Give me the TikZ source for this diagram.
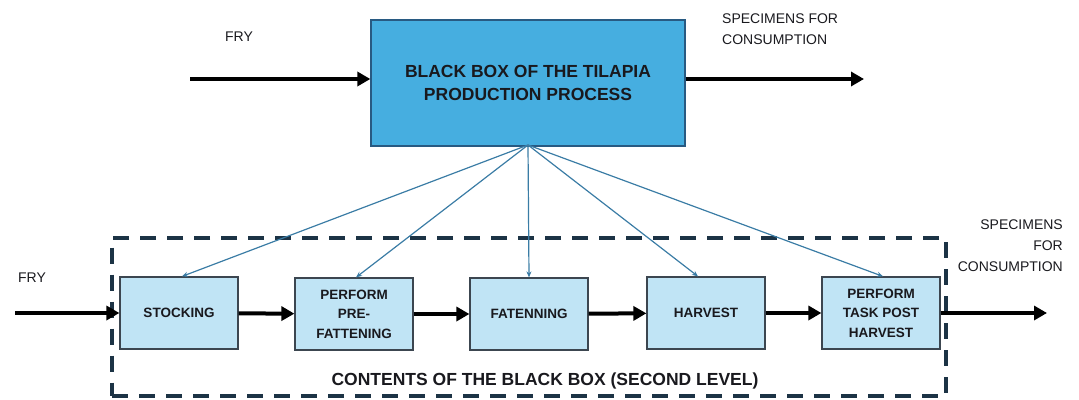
\documentclass[tikz,border=0pt]{standalone}
\usepackage{fontspec}
\setmainfont{Liberation Sans}
\usetikzlibrary{arrows.meta}
\definecolor{topfill}{RGB}{70,174,224}
\definecolor{topdraw}{RGB}{40,90,130}
\definecolor{stepfill}{RGB}{192,228,245}
\definecolor{stepdraw}{RGB}{60,70,80}
\definecolor{linkblue}{RGB}{58,124,165}
\definecolor{dashcol}{RGB}{28,51,69}
\definecolor{txt}{RGB}{25,25,30}
\tikzset{
  topbox/.style={draw=topdraw, line width=1.3pt, fill=topfill, minimum width=314pt, minimum height=126pt,
    inner sep=0pt, align=center, font=\fontsize{17.5}{23}\selectfont\bfseries, text=txt},
  stepbox/.style={draw=stepdraw, line width=1.2pt, fill=stepfill, minimum width=118pt, minimum height=72pt,
    inner sep=0pt, align=center, font=\fontsize{13.5}{19.5}\selectfont\bfseries, text=txt},
  outerbox/.style={draw=dashcol, line width=4pt, dash pattern=on 16pt off 11pt, minimum width=834pt, minimum height=158pt, inner sep=0pt},
  flow/.style={line width=4pt, -{Triangle[length=13pt,width=14pt]}},
  link/.style={draw=linkblue, line width=1.2pt, -{Stealth[length=6pt,width=5pt]}},
  lbl/.style={font=\fontsize{14}{21}\selectfont, text=txt, inner sep=0pt},
}
\begin{document}
\begin{tikzpicture}[x=1pt,y=-1pt]
\useasboundingbox (0,0) rectangle (1079,399);
% top level: the whole process as one box
\node[topbox] (top) at (528,83) {BLACK BOX OF THE TILAPIA\\PRODUCTION PROCESS};
\coordinate (topin) at (190,79);
\coordinate (topout) at (864,79);
\draw[flow] (topin) -- (top.west |- topin);
\draw[flow] (top.east |- topout) -- (topout);
\node[lbl] (fryA) at (239,37) {FRY};
\node[lbl, anchor=west, align=left] (specA) at (722,29) {SPECIMENS FOR\\CONSUMPTION};

% second level: contents of the box
\node[outerbox] (inner) at (529,316.5) {};
\node[stepbox] (s1) at (179,313) {STOCKING};
\node[stepbox] (s2) at (354,314) {PERFORM\\PRE-\\FATTENING};
\node[stepbox] (s3) at (529,314) {FATENNING};
\node[stepbox] (s4) at (706,313) {HARVEST};
\node[stepbox] (s5) at (881,313) {PERFORM\\TASK POST\\HARVEST};
\node[font=\fontsize{17.5}{20}\selectfont\bfseries, text=txt, inner sep=0pt] (cap) at (545,381) {CONTENTS OF THE BLACK BOX (SECOND LEVEL)};

\coordinate (botin) at (15,313);
\coordinate (botout) at (1047,313);
\draw[flow] (botin) -- (s1.west);
\draw[flow] (s1) -- (s2);
\draw[flow] (s2) -- (s3);
\draw[flow] (s3) -- (s4);
\draw[flow] (s4) -- (s5);
\draw[flow] (s5) -- (botout);
\node[lbl] (fryB) at (32,278) {FRY};
\node[lbl, anchor=east, align=right] (specB) at (1063,246) {SPECIMENS\\FOR\\CONSUMPTION};

% decomposition links
\coordinate (hub) at (528,145);
\foreach \s/\dx in {s1/3,s2/2,s3/0,s4/-8,s5/2}
  \draw[link] (hub) -- ([xshift=\dx pt]\s.north);
\end{tikzpicture}
\end{document}
